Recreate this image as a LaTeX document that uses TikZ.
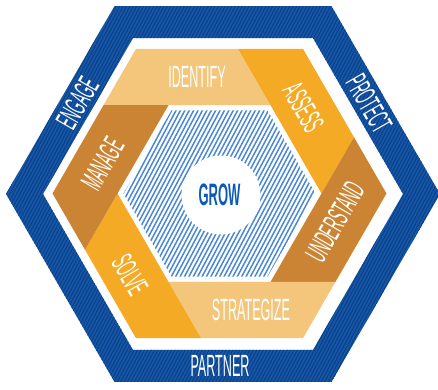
\documentclass[tikz,border=0pt]{standalone}
\usepackage{fontspec}
\setmainfont{Liberation Sans}
\usepackage{graphicx}
\definecolor{bandblue}{HTML}{1656A6}
\definecolor{stripeblue}{HTML}{0A3F86}
\definecolor{lightor}{HTML}{F3C67B}
\definecolor{brightor}{HTML}{F4AA24}
\definecolor{darkor}{HTML}{CB8434}
\definecolor{hatchblue}{HTML}{4D88D2}
\definecolor{growblue}{HTML}{0B5BB5}
\newcommand{\cond}[1]{\scalebox{0.41}[1]{\fontsize{30.7}{31}\selectfont #1}}
\newcommand{\condb}[1]{\scalebox{0.42}[1]{\fontsize{31}{31}\selectfont\bfseries #1}}
\tikzset{
  lbl/.style={text=white, inner sep=0pt},
  stripe/.style={stripeblue, line width=0.9pt},
  hatchline/.style={hatchblue, line width=1.5pt},
}
\begin{document}
\begin{tikzpicture}[x=1pt,y=1pt]
\useasboundingbox (0,0) rectangle (438,389);
% outer blue ring
\begin{scope}[shift={(223,195)}]
  \fill[bandblue, even odd rule]
    (0:217) -- (60:217) -- (120:217) -- (180:217) -- (240:217) -- (300:217) -- cycle
    (0:180) -- (60:180) -- (120:180) -- (180:180) -- (240:180) -- (300:180) -- cycle;
  \begin{scope}[even odd rule]
    \clip
      (0:217) -- (60:217) -- (120:217) -- (180:217) -- (240:217) -- (300:217) -- cycle
      (0:180) -- (60:180) -- (120:180) -- (180:180) -- (240:180) -- (300:180) -- cycle;
    \foreach \i in {-130,...,70}
      \draw[stripe] ({\i*3.4},-200) -- ++(62:460);
  \end{scope}
\end{scope}
% orange pinwheel
\begin{scope}[shift={(219.5,195.5)}]
  \foreach \k/\c in {0/lightor,1/brightor,2/darkor,3/lightor,4/brightor,5/darkor}{
    \begin{scope}[rotate=-60*\k]
      \fill[\c] (-116,88.33) -- (120:167) -- (18.5,144.63) -- (60:102) -- (120:102) -- cycle;
    \end{scope}
  }
  % hatched core
  \begin{scope}
    \clip (0:96) -- (60:96) -- (120:96) -- (180:96) -- (240:96) -- (300:96) -- cycle;
    \foreach \i in {-45,...,23}
      \draw[hatchline] ({\i*4.4},-100) -- ++(62:230);
  \end{scope}
\end{scope}
\fill[white] (221,194) circle (39.5);
% labels
\node[text=growblue, inner sep=0pt] (grow) at (219.5,194.5) {\condb{GROW}};
\node[lbl, rotate=60] (engage) at (77.5,286) {\cond{ENGAGE}};
\node[lbl, rotate=-60] (protect) at (369,285.5) {\cond{PROTECT}};
\node[lbl] (partner) at (220,23) {\cond{PARTNER}};
\node[lbl] (identify) at (197,312) {\cond{IDENTIFY}};
\node[lbl, rotate=-60] (assess) at (303.5,281.5) {\cond{ASSESS}};
\node[lbl, rotate=60] (understand) at (335,167) {\cond{UNDERSTAND}};
\node[lbl] (strategize) at (251,79) {\cond{STRATEGIZE}};
\node[lbl, rotate=-60] (solve) at (130,114) {\cond{SOLVE}};
\node[lbl, rotate=60] (manage) at (102.5,225) {\cond{MANAGE}};
\end{tikzpicture}
\end{document}
